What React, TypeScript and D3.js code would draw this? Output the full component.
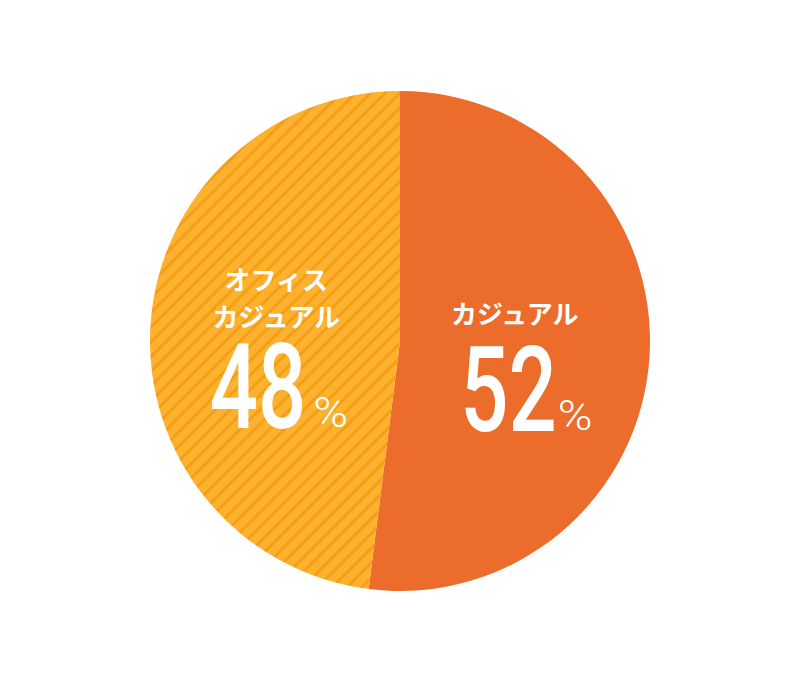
import React from "react";
import * as d3 from "d3";

const categories: string[][] = [["カジュアル"], ["オフィス", "カジュアル"]];
const values: number[] = [52, 48];
const percentLabels: string[] = ["52", "48"];

const W = 800;
const H = 680;
const CX = 400;
const CY = 341;
const R = 250;
const COLORS = ["#EC6C2B", "url(#stripes)"];
const STRIPE = 10.4;

// layout offsets of each label group, relative to the slice's label centroid
const layout = [
  { nameDx: -10, nameDy: -25, lineGap: 37, numDx: 32, numDy: 82, pctDx: 33 },
  { nameDx: 1, nameDy: -43, lineGap: 37, numDx: 31, numDy: 95, pctDx: 38 },
];

export default function App() {
  const pie = d3
    .pie<number>()
    .sort(null)
    .value((d) => d)
    .startAngle(0)
    .endAngle(2 * Math.PI);
  const arcs = pie(values);
  const arc = d3.arc<d3.PieArcDatum<number>>().innerRadius(0).outerRadius(R);
  const labelArc = d3
    .arc<d3.PieArcDatum<number>>()
    .innerRadius(250)
    .outerRadius(0);

  return (
    <div style={{ position: "absolute", left: 0, top: 0 }}>
      <svg width={W} height={H} style={{ display: "block", background: "#fff" }}>
        <defs>
          <pattern
            id="stripes"
            patternUnits="userSpaceOnUse"
            width={STRIPE}
            height={STRIPE}
            patternTransform="rotate(45)"
          >
            <rect width={STRIPE} height={STRIPE} fill="#FCB12F" />
            <rect x={0} y={0} width={2.8} height={STRIPE} fill="#F79D14" />
          </pattern>
        </defs>
        <g transform={`translate(${CX},${CY})`}>
          {arcs.map((a, i) => (
            <path key={i} d={arc(a) || ""} fill={COLORS[i]} />
          ))}
          {arcs.map((a, i) => {
            const [lx, ly] = labelArc.centroid(a);
            const L = layout[i];
            const lines = categories[i];
            return (
              <g key={"l" + i} transform={`translate(${lx},${ly})`} fill="#fff">
                {lines.map((t, j) => (
                  <text
                    key={j}
                    x={L.nameDx}
                    y={L.nameDy + j * L.lineGap}
                    textAnchor="middle"
                    fontFamily="'Noto Sans CJK JP', sans-serif"
                    fontWeight={700}
                    fontSize={26}
                  >
                    {t}
                  </text>
                ))}
                <text
                  transform={`translate(${L.numDx},${L.numDy}) scale(0.72,1)`}
                  textAnchor="end"
                  fontFamily="Roboto, sans-serif"
                  fontWeight={500}
                  fontSize={118}
                >
                  {percentLabels[i]}
                </text>
                <text
                  transform={`translate(${L.pctDx},${L.numDy - 1}) scale(1.12,1)`}
                  textAnchor="start"
                  fontFamily="Roboto, sans-serif"
                  fontWeight={300}
                  fontSize={42}
                >
                  %
                </text>
              </g>
            );
          })}
        </g>
      </svg>
    </div>
  );
}
